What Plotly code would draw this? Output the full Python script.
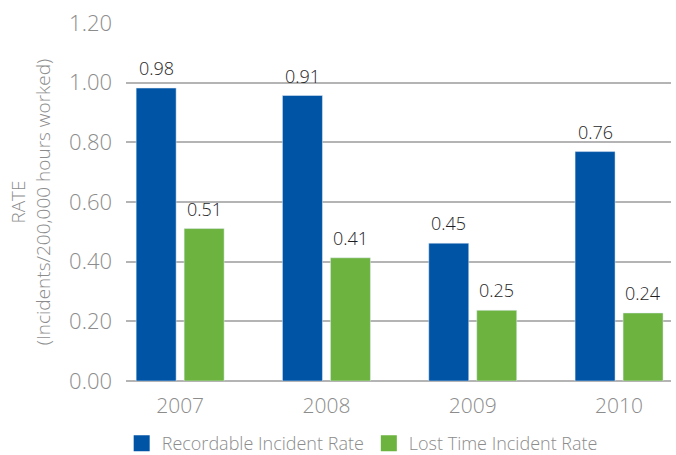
import plotly.graph_objects as go

# ── data ──────────────────────────────────────────────
years = ["2007", "2008", "2009", "2010"]
recordable = [0.982, 0.957, 0.462, 0.769]          # bar heights as drawn
recordable_labels = ["0.98", "0.91", "0.45", "0.76"]
lost_time = [0.511, 0.413, 0.237, 0.228]
lost_time_labels = ["0.51", "0.41", "0.25", "0.24"]

BLUE = "#0054a6"
GREEN = "#6cb33f"
GREY = "#8c8c8c"
FONT = "Open Sans, Noto Sans, sans-serif"

x = list(range(len(years)))

fig = go.Figure()
fig.add_trace(go.Bar(x=x, y=recordable, marker_color=BLUE, showlegend=False))
fig.add_trace(go.Bar(x=x, y=lost_time, marker_color=GREEN, showlegend=False))

# legend entries with bigger square swatches
for name, col in [("Recordable Incident Rate", BLUE), ("Lost Time Incident Rate", GREEN)]:
    fig.add_trace(go.Scatter(x=[None], y=[None], mode="markers", name=name,
                             marker=dict(symbol="square", size=18, color=col)))

# value labels above each bar
for vals, labels, shift in [(recordable, recordable_labels, -24), (lost_time, lost_time_labels, 24)]:
    for xi, v, t in zip(x, vals, labels):
        fig.add_annotation(x=xi, y=v, text=t, showarrow=False, xshift=shift,
                           yanchor="bottom", yshift=6,
                           font=dict(family=FONT, size=18, color="#1e1e1e", weight=300))

fig.update_layout(
    width=676, height=455,
    margin=dict(l=126, r=5, t=23, b=74, autoexpand=False),
    paper_bgcolor="white", plot_bgcolor="white",
    barmode="group", bargap=0.344, bargroupgap=0.167,
    font=dict(family=FONT, color=GREY),
    xaxis=dict(
        tickvals=x, ticktext=years, range=[-0.37, 3.355],
        showgrid=False, zeroline=False, showline=False,
        tickfont=dict(size=21, color=GREY, weight=300),
        ticklabelstandoff=10, automargin=False,
    ),
    yaxis=dict(
        range=[0, 1.2], dtick=0.2, tickformat=".2f",
        showgrid=True, gridcolor="#b4b4b4", gridwidth=1.5,
        zeroline=True, zerolinecolor="#b4b4b4", zerolinewidth=1.5,
        tickfont=dict(size=22, color=GREY, weight=300),
        ticklabelstandoff=13,
        automargin=False,
        title=dict(text="RATE<br>(Incidents/200,000 hours worked)",
                   font=dict(size=19, color=GREY, weight=300), standoff=13),
    ),
    legend=dict(orientation="h", xref="container", x=0.18, xanchor="left",
                yref="container", y=0.066, yanchor="top",
                font=dict(size=18, color=GREY, weight=300),
                itemsizing="trace", bgcolor="rgba(0,0,0,0)"),
)

# drop the browser's default 8px body margin so the figure fills the window
fig.write_html("out.html", config={"displayModeBar": False},
               post_script="document.body.style.margin='0';")
